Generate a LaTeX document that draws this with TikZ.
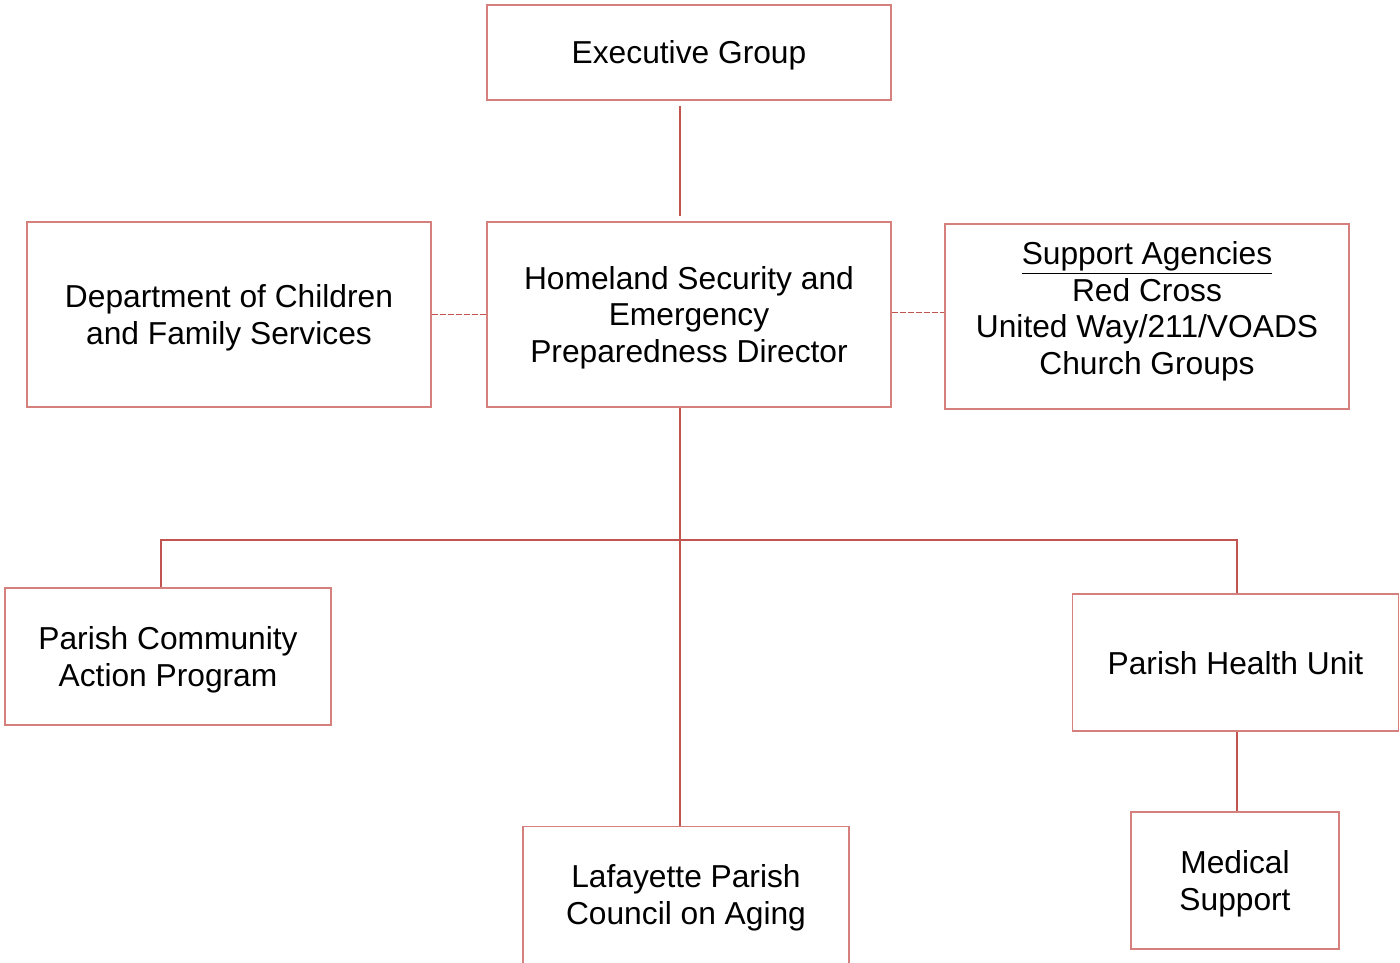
\documentclass[tikz,border=0pt]{standalone}
\usepackage{fontspec}
\setmainfont{Liberation Sans}
\definecolor{boxred}{RGB}{214,128,126}
\definecolor{linkred}{RGB}{194,84,80}
\begin{document}
\begin{tikzpicture}
[x=0.75pt,y=-0.75pt,
  boxdecorate/.style={shape=rectangle,draw=boxred,line width=1.1pt,inner sep=0pt,
    text depth=0pt,align=center,font=\fontsize{23.8}{27.5}\selectfont},%
  widebox/.style={boxdecorate,minimum width=303pt,minimum height=138.75pt},%
  smallbox/.style={boxdecorate,minimum width=244.5pt,minimum height=102.75pt},%
  linkdecorate/.style={-,draw=linkred,line width=1.1pt},%
  dashdecorate/.style={linkdecorate,dash pattern=on 4.5pt off 1.5pt}]
\useasboundingbox (0,0) rectangle (1400,963);
%% boxes
\node (exec) at (689,52.5) [boxdecorate,minimum width=303pt,minimum height=71.25pt]
  {Executive Group};
\node (hsep) at (689,314.5) [widebox]
  {Homeland Security and\\Emergency\\Preparedness Director};
\node (dcfs) at (229,314.5) [widebox]
  {Department of Children\\and Family Services};
\node (supp) at (1147,316.5) [widebox,text depth=12.5pt]
  {\underline{Support Agencies}\\Red Cross\\United Way/211/VOADS\\Church Groups};
\node (pcap) at (168,656.5) [smallbox] {Parish Community\\Action Program};
\node (phu) at (1235.5,662.5) [smallbox] {Parish Health Unit};
\node (lpcoa) at (686,896.5) [smallbox,minimum height=105pt,text depth=3pt]
  {Lafayette Parish\\Council on Aging};
\node (med) at (1235,880.5) [smallbox,minimum width=156pt] {Medical\\Support};
%% trunk and branch points
\coordinate (trunk) at (680,540);
\coordinate (barL) at (161,540);
\coordinate (barR) at (1237,540);
%% solid lines
\draw[linkdecorate,shorten <=3.75pt,shorten >=3.75pt]
  (trunk |- exec.south) -- (trunk |- hsep.north);
\draw[linkdecorate] (trunk |- hsep.south) -- (trunk |- lpcoa.north);
\draw[linkdecorate] (barL |- pcap.north) -- (barL) -- (barR) -- (barR |- phu.north);
\draw[linkdecorate] (barR |- phu.south) -- (barR |- med.north);
%% dashed lines
\draw[dashdecorate] (dcfs.east) -- (hsep.west);
\draw[dashdecorate] ([yshift=1.5pt]hsep.east) -- ([yshift=1.5pt]hsep.east -| supp.west);
\end{tikzpicture}
\end{document}
